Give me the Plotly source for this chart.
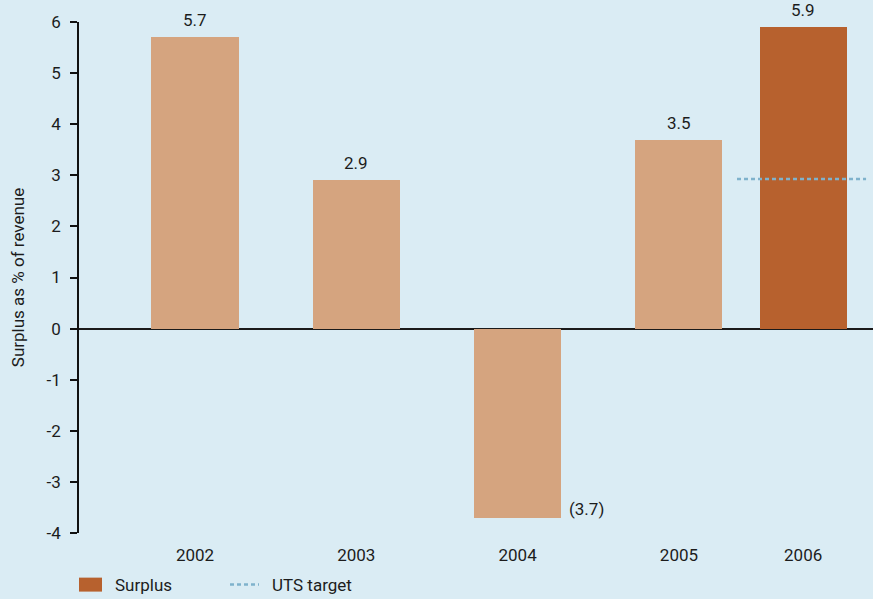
import plotly.graph_objects as go

# ---- data ----
years = ["2002", "2003", "2004", "2005", "2006"]
surplus = [5.7, 2.9, -3.7, 3.7, 5.9]
value_labels = ["5.7", "2.9", "(3.7)", "3.5", "5.9"]
uts_target = 2.93
y_ticks = [-4, -3, -2, -1, 0, 1, 2, 3, 4, 5, 6]

# ---- layout helpers ----
slots = [0, 1, 2, 3, 3.77]          # category slot positions on the axis
bar_w = 0.54
light = "#d5a47f"
dark = "#b7612e"
bg = "#daecf4"
txt = "#1c1c1c"
font_family = "Roboto, 'Noto Sans', sans-serif"
fs = 17

fig = go.Figure()

colors = [light] * (len(years) - 1) + [dark]
fig.add_trace(go.Bar(
    x=slots, y=surplus, width=bar_w, marker=dict(color=colors, line=dict(width=0)),
    showlegend=False, hoverinfo="skip",
))

# UTS target line around the 2006 slot
t_x = [slots[-1] - 0.41, slots[-1] + 0.39]
fig.add_trace(go.Scatter(
    x=t_x, y=[uts_target, uts_target], mode="lines",
    line=dict(color="#7fb2cc", width=2.5, dash="4px,3px"),
    showlegend=False, hoverinfo="skip",
))

# value labels
for xs, v, lab in zip(slots, surplus, value_labels):
    if v >= 0:
        fig.add_annotation(x=xs, y=v, text=lab, showarrow=False, yanchor="bottom",
                           yshift=5, font=dict(size=fs, color=txt, family=font_family))
    else:
        fig.add_annotation(x=xs + bar_w / 2, y=v, text=lab, showarrow=False,
                           xanchor="left", yanchor="bottom", xshift=6, yshift=-3,
                           font=dict(size=fs, color=txt, family=font_family))

# manual legend (paper coords; plot area 79..873 x, 21.5..533.3 y)
W, H = 794.0, 511.8
def px(xp):
    return (xp - 79) / W
def py(yp):
    return (533.3 - yp) / H

fig.add_shape(type="rect", xref="paper", yref="paper",
              x0=px(79), x1=px(102), y0=py(592), y1=py(578),
              fillcolor=dark, line=dict(width=0))
fig.add_annotation(xref="paper", yref="paper", x=px(113), y=py(585), text="Surplus",
                   showarrow=False, xanchor="left", yanchor="middle",
                   font=dict(size=fs, color=txt, family=font_family))
fig.add_shape(type="line", xref="paper", yref="paper",
              x0=px(230), x1=px(259), y0=py(585), y1=py(585),
              line=dict(color="#7fb2cc", width=2.5, dash="4px,3px"))
fig.add_annotation(xref="paper", yref="paper", x=px(270), y=py(585), text="UTS target",
                   showarrow=False, xanchor="left", yanchor="middle",
                   font=dict(size=fs, color=txt, family=font_family))

fig.update_layout(
    width=873, height=599,
    margin=dict(l=79, r=0, t=21.5, b=65.7),
    paper_bgcolor=bg, plot_bgcolor=bg,
    font=dict(family=font_family, size=fs, color=txt),
    bargap=0, showlegend=False,
    xaxis=dict(
        range=[-0.719, 4.203], tickmode="array", tickvals=slots, ticktext=years,
        showgrid=False, zeroline=False, showline=False,
        ticks="outside", ticklen=7, tickcolor="rgba(0,0,0,0)",
        tickfont=dict(size=fs, color=txt), fixedrange=True,
    ),
    yaxis=dict(
        range=[-4, 6], tickmode="array", tickvals=y_ticks,
        ticktext=[str(t) for t in y_ticks],
        showgrid=False, showline=True, linecolor="#111111", linewidth=1.5,
        ticks="outside", ticklen=7, tickwidth=1.5, tickcolor="#111111",
        ticklabelstandoff=6,
        zeroline=True, zerolinecolor="#1a1a1a", zerolinewidth=2,
        layer="above traces",
        tickfont=dict(size=fs, color=txt),
        title=dict(text="Surplus as % of revenue", font=dict(size=fs, color=txt), standoff=18),
        fixedrange=True,
    ),
)

fig.write_html(
    "out.html",
    config={"displayModeBar": False},
    post_script="document.body.style.margin='0';document.body.style.background='" + bg + "';",
)
